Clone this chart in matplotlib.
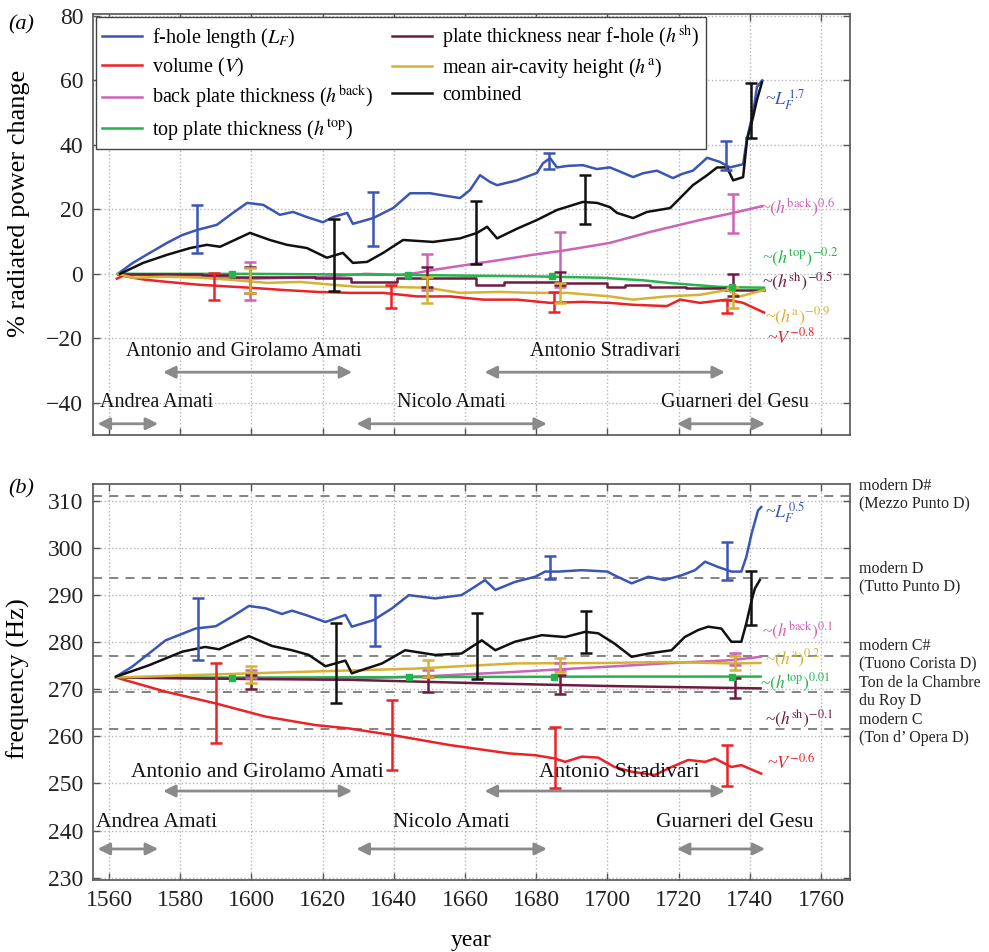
import matplotlib
matplotlib.use("Agg")
import matplotlib.pyplot as plt
from matplotlib.transforms import blended_transform_factory

plt.rcParams.update({
    "font.family": ["Liberation Serif", "DejaVu Serif"],
    "mathtext.fontset": "stix",
    "axes.edgecolor": "#555555",
    "xtick.direction": "in",
    "ytick.direction": "in",
    "xtick.top": True,
    "ytick.right": True,
    "xtick.color": "#555555",
    "ytick.color": "#555555",
    "xtick.labelcolor": "#222222",
    "ytick.labelcolor": "#222222",
})

C_BLUE = "#3b55b5"
C_RED = "#ec2227"
C_MAG = "#cc63b6"
C_GREEN = "#25b34b"
C_PURP = "#6e1a42"
C_YEL = "#d7b232"
C_BLACK = "#111111"
C_ARROW = "#8a8a8a"

# ---------------- panel (a): % radiated power change ----------------
lf_a_yr = [1562.5, 1566.7, 1571, 1576.3, 1580.5, 1584.7, 1590.3, 1594.8, 1598.8, 1603.3, 1608, 1611.7,
           1615.6, 1620.1, 1622.9, 1626.9, 1628.5, 1634.2, 1639.8, 1644.6, 1650.2, 1654, 1658.6, 1661.4,
           1664.2, 1667, 1669, 1674.6, 1680.2, 1681.9, 1683.9, 1685.8, 1689, 1693.1, 1697, 1700.7, 1704,
           1707.2, 1710, 1713.9, 1718.4, 1721, 1724, 1728, 1731.6, 1734.4, 1738.1, 1739.2, 1740.9, 1742, 1743.5]
lf_a = [0, 3.4, 6.2, 9.6, 12, 13.6, 15.2, 18.9, 22, 21.4, 18.3, 19.2,
        17.6, 16, 17.6, 18.9, 15.5, 17.3, 20.4, 25, 25, 24.3, 23.5, 26,
        30.6, 28.5, 27.5, 29, 31.3, 34.3, 35.9, 33, 33.5, 33.7, 32.5, 33, 31.5,
        30, 31.2, 32, 29.7, 31, 32, 36, 34.7, 33, 34, 42, 50, 58, 60]

comb_a_yr = [1563.1, 1569.6, 1576.3, 1582.8, 1587.5, 1591.2, 1599.6, 1605.2, 1610, 1615.6, 1621.2, 1625.7,
             1628.5, 1632.5, 1637, 1642.6, 1651, 1658.6, 1663.4, 1666.2, 1669, 1674.6, 1680.2, 1685.8,
             1693.1, 1697.1, 1700.7, 1702.7, 1707.2, 1711.1, 1717.6, 1720.4, 1724, 1728, 1730.8, 1733.6,
             1735.3, 1738.1, 1739.2, 1740.9, 1742, 1743.4]
comb_a = [0, 3.4, 5.9, 8, 9, 8.4, 12.7, 10.5, 9, 8, 5, 6.5,
          3.4, 3.7, 6.5, 10.5, 9.9, 11, 12.7, 14.6, 11, 14, 16.7, 19.8,
          22.3, 22, 20.7, 18.9, 17.3, 19.2, 20.4, 23.5, 27.5, 30.6, 33, 33,
          29, 30, 41.5, 48.6, 54, 59.4]

vol_a_yr = [1562.2, 1564, 1566.7, 1570, 1576.3, 1585.6, 1594.8, 1599.6, 1608.9, 1618.4, 1627.7, 1637,
            1646.5, 1655.8, 1665.1, 1674.6, 1683.9, 1693.1, 1700.7, 1707.2, 1716.7, 1720.4, 1726, 1733.6,
            1738.1, 1742, 1744]
vol_a = [-1.5, -0.6, -1.2, -1.8, -2.5, -3.4, -4, -4.3, -5, -5.6, -5.9, -5.9,
         -7, -7, -8, -8, -9, -8.7, -9, -9.6, -10, -8, -9, -8,
         -9, -11, -12]

back_a_yr = [1562.5, 1580, 1600, 1620, 1632, 1641.7, 1646.5, 1651, 1660.6, 1669.8, 1679, 1688.7,
             1700.7, 1712, 1726, 1735.3, 1743.5]
back_a = [0, -0.5, -1.5, -1, 0, -0.3, 0.3, 1.2, 2.8, 4.3, 5.9, 7.4,
          9.6, 13, 16.7, 18.9, 21]

top_a_yr = [1562.5, 1600, 1640, 1680, 1698, 1710, 1717, 1725, 1731, 1738, 1744]
top_a = [0, 0, -0.3, -0.8, -1.2, -2, -2.8, -3.5, -4, -4.2, -4.3]

sh_a_yr = [1562.5, 1586, 1594, 1618, 1628, 1641, 1663, 1671, 1686, 1700, 1705, 1712, 1722, 1733, 1744]
sh_a = [0, -0.5, -1, -1.3, -2.5, -1.2, -3.4, -2.5, -2.9, -4, -3.4, -4, -4.5, -5, -5]

ha_a_yr = [1562.5, 1566.7, 1576.3, 1585.6, 1594.8, 1604.4, 1613.7, 1622.9, 1629.7, 1637, 1649.3, 1658.6,
           1669.8, 1679.1, 1688.7, 1700.7, 1707.2, 1716.7, 1726, 1733.6, 1737.2, 1742, 1744]
ha_a = [0, -1.2, -0.9, -1.2, -1.9, -2.8, -2.5, -3.4, -4, -4, -4.3, -5.9,
        -5.6, -5.9, -5.9, -7, -8, -7, -6.5, -5, -7, -5.6, -5]

# error bars (a): year, centre, half-width
lf_a_err = ([1584.7, 1634.2, 1683.6, 1733.3], [13.9, 17, 35, 36.7], [7.3, 8.3, 2.6, 4.5])
comb_a_err = ([1623.2, 1663, 1693.7, 1740.2], [5.8, 12.9, 23, 50.6], [11.2, 9.8, 7.5, 8.6])
vol_a_err = ([1589.6, 1639.1, 1685, 1733.5], [-3.9, -7, -8.8, -10], [4.1, 3.6, 3.1, 2])
back_a_err = ([1599.6, 1649.2, 1686.7, 1735.4], [-2.1, 0.5, 4.5, 18.7], [5.9, 5.5, 8.5, 6.1])
sh_a_err = ([1599.6, 1649.2, 1686.7, 1735.4], [-2, -1, -1.4, -3.5], [4, 3, 2, 3.3])
ha_a_err = ([1599.6, 1649.2, 1686.7, 1735.4], [-2.1, -5, -6, -7.3], [3.9, 4.1, 3.1, 3.3])
top_a_err = ([1594.5, 1644, 1684.3, 1735], [0, -0.3, -0.8, -4.2], [0.3, 0.3, 0.3, 0.3])

# ---------------- panel (b): frequency ----------------
lf_b_yr = [1562, 1566.5, 1575.9, 1584.3, 1590, 1594.5, 1599.3, 1604, 1608.6, 1611.4, 1615.2, 1620.8,
           1626.4, 1628.2, 1634.3, 1639.5, 1644.2, 1651.6, 1659, 1662.8, 1665.6, 1668.5, 1674, 1679.7,
           1682.5, 1686.2, 1692.8, 1700, 1702, 1706.8, 1711.5, 1716, 1720.8, 1724.6, 1727.4, 1731,
           1734.8, 1737.6, 1739, 1740.5, 1742.3, 1743.2]
lf_b = [272.7, 274.8, 280.4, 282.9, 283.4, 285.4, 287.7, 287.2, 286, 286.7, 285.8, 284.3,
        285.8, 283.3, 284.7, 287.2, 290, 289.3, 290, 291.8, 293.2, 291.1, 292.8, 293.9,
        295, 295, 295.3, 295, 294.2, 292.5, 293.9, 293.2, 294.2, 295.3, 297.1, 296,
        295, 295, 298.1, 303.1, 308, 308.7]

comb_b_yr = [1562, 1571.2, 1580.6, 1587, 1590.9, 1599.3, 1605.8, 1611.4, 1616.1, 1620.8, 1626.4, 1628.2,
             1636.7, 1643.2, 1651.6, 1659, 1664.7, 1668.5, 1674, 1681.6, 1688.1, 1693.7, 1697.4, 1702,
             1706.8, 1711.5, 1718, 1721.7, 1725.5, 1728.3, 1732, 1734.8, 1737.6, 1739, 1740.5, 1741.4,
             1742.8]
comb_b = [272.7, 275.1, 278, 279, 278.5, 281.3, 279.2, 278.3, 277.3, 274.9, 276.1, 273.4,
          275.5, 278.3, 277.3, 277.6, 280.4, 278.3, 280.1, 281.5, 281.1, 282.2, 281.9, 279.7,
          276.9, 277.6, 278.3, 281.1, 282.6, 283.3, 282.9, 280.1, 280.1, 284, 288.9, 291.4,
          293.2]

vol_b_yr = [1562, 1575.9, 1590, 1604, 1618, 1627.3, 1639.5, 1655.4, 1672.2, 1679.7, 1685.3, 1688.1,
            1692.8, 1697.4, 1702, 1706.8, 1713.3, 1718, 1722.7, 1727.4, 1730.2, 1734.8, 1737.6, 1743.2]
vol_b = [272.5, 269.5, 267, 264.2, 262.4, 261.7, 260.3, 258.2, 256.4, 256, 255.3, 254.6,
         255.7, 255.5, 253.5, 252.5, 251.8, 253.5, 255, 254.6, 255.3, 253.5, 253.9, 252.1]

ha_b_yr = [1562, 1600, 1646, 1674, 1700, 1716, 1735, 1743]
ha_b = [272.5, 273.4, 274.4, 275.5, 275.6, 275.8, 275.5, 275.6]
back_b_yr = [1562, 1600, 1628, 1650, 1674, 1700, 1716, 1735, 1743]
back_b = [272.5, 272.2, 272.3, 272.8, 273.7, 274.8, 275.5, 276.2, 276.9]
top_b_yr = [1562, 1600, 1650, 1700, 1743]
top_b = [272.5, 272.5, 272.6, 272.7, 272.7]
sh_b_yr = [1562, 1600, 1628, 1664, 1700, 1743]
sh_b = [272.5, 272.2, 272, 271.3, 270.7, 270.2]

lf_b_err = ([1585, 1634.6, 1684, 1733.7], [282.8, 284.6, 295.9, 297.2], [6.6, 5.4, 2.4, 4])
comb_b_err = ([1623.7, 1663.3, 1694, 1740.3], [275.6, 279.2, 282.2, 289.4], [8.5, 7.1, 4.4, 5.7])
vol_b_err = ([1590, 1639.6, 1685.3, 1733.7], [267, 260.3, 255.5, 253.8], [8.5, 7.5, 6.5, 4.4])
ha_b_err = ([1600, 1649.5, 1686.6, 1735.8], [273.1, 274.5, 275.2, 275.5], [1.8, 1.8, 1.5, 1.5])
back_b_err = ([1600, 1649.5, 1686.6, 1735.8], [273.3, 273.5, 274.8, 276.5], [0.8, 0.7, 0.7, 1.3])
sh_b_err = ([1600, 1649.5, 1686.6, 1735.8], [271.5, 271.1, 271, 270.2], [1.5, 1.6, 2, 2.1])
top_b_err = ([1594.6, 1644.2, 1685, 1735], [272.5, 272.6, 272.7, 272.7], [0.2, 0.2, 0.2, 0.2])

# reference pitches (Hz)
pitch_hz = [311.13, 293.66, 277.18, 269.4, 261.63]
pitch_names = ["modern D#\n(Mezzo Punto D)", "modern D\n(Tutto Punto D)",
               "modern C#\n(Tuono Corista D)", "Ton de la Chambre\ndu Roy D",
               "modern C\n(Ton d\u2019 Opera D)"]

# makers: name, start year, end year, row (0 = upper, 1 = lower)
makers = ["Andrea Amati", "Antonio and Girolamo Amati", "Nicolo Amati",
          "Antonio Stradivari", "Guarneri del Gesu"]
maker_start = [1556.8, 1575.2, 1629.5, 1665.5, 1719.5]
maker_end = [1573.8, 1628.3, 1683, 1733, 1744.3]
maker_row = [1, 0, 1, 0, 1]

LABELS = ["f-hole length ($L_F$)", "volume ($V$)",
          "back plate thickness ($h^{\\mathrm{back}}$)",
          "top plate thickness ($h^{\\mathrm{top}}$)",
          "plate thickness near f-hole ($h^{\\mathrm{sh}}$)",
          "mean air-cavity height ($h^{\\mathrm{a}}$)", "combined"]

fig = plt.figure(figsize=(9.89, 9.52), dpi=100)
ax1 = fig.add_axes([0.094, 0.543, 0.765, 0.442])
ax2 = fig.add_axes([0.094, 0.0756, 0.765, 0.416])

LW = 1.8


def draw_panel(ax, series, errs):
    handles = []
    for (yr, v, c, ds) in series:
        h, = ax.plot(yr, v, color=c, lw=LW, drawstyle=ds, zorder=3)
        handles.append(h)
    for (e, c) in errs:
        ax.errorbar(e[0], e[1], yerr=e[2], fmt="none", ecolor=c, elinewidth=1.8,
                    capsize=4, capthick=1.8, zorder=4)
    return handles


series_a = [(lf_a_yr, lf_a, C_BLUE, "default"), (vol_a_yr, vol_a, C_RED, "default"),
            (back_a_yr, back_a, C_MAG, "default"), (top_a_yr, top_a, C_GREEN, "default"),
            (sh_a_yr, sh_a, C_PURP, "steps-post"), (ha_a_yr, ha_a, C_YEL, "default"),
            (comb_a_yr, comb_a, C_BLACK, "default")]
errs_a = [(lf_a_err, C_BLUE), (vol_a_err, C_RED), (back_a_err, C_MAG), (sh_a_err, C_PURP),
          (ha_a_err, C_YEL), (comb_a_err, C_BLACK)]
handles = draw_panel(ax1, series_a, errs_a)
ax1.plot(top_a_err[0], top_a_err[1], "s", color=C_GREEN, ms=5, zorder=4)

series_b = [(lf_b_yr, lf_b, C_BLUE, "default"), (vol_b_yr, vol_b, C_RED, "default"),
            (back_b_yr, back_b, C_MAG, "default"), (top_b_yr, top_b, C_GREEN, "default"),
            (sh_b_yr, sh_b, C_PURP, "default"), (ha_b_yr, ha_b, C_YEL, "default"),
            (comb_b_yr, comb_b, C_BLACK, "default")]
errs_b = [(lf_b_err, C_BLUE), (vol_b_err, C_RED), (back_b_err, C_MAG), (sh_b_err, C_PURP),
          (ha_b_err, C_YEL), (comb_b_err, C_BLACK)]
draw_panel(ax2, series_b, errs_b)
ax2.plot(top_b_err[0], top_b_err[1], "s", color=C_GREEN, ms=4, zorder=4)

for p in pitch_hz:
    ax2.axhline(p, color="#7a7a7a", lw=1.3, ls=(0, (5, 4)), zorder=1)

# axes cosmetics
for ax in (ax1, ax2):
    ax.set_xlim(1555.5, 1768)
    ax.set_xticks(range(1560, 1761, 20))
    ax.grid(True, color="#b5b5b5", ls=":", lw=1.0)
    ax.set_axisbelow(True)
    ax.tick_params(labelsize=17, length=5, width=1, pad=7)
    for s in ax.spines.values():
        s.set_linewidth(1.2)

ax1.set_ylim(-50, 80.5)
ax1.set_yticks(range(-40, 81, 20))
ax1.set_xticklabels([])
ax1.set_yticklabels(["\u221240", "\u221220", "0", "20", "40", "60", "80"])
ax1.set_ylabel("% radiated power change", fontsize=19)
ax1.yaxis.set_label_coords(-0.083, 0.551)

ax2.set_ylim(229.5, 313.6)
ax2.set_yticks(range(230, 311, 10))
ax2.set_ylabel("frequency (Hz)", fontsize=19)
ax2.yaxis.set_label_coords(-0.083, 0.508)
ax2.set_xlabel("year", fontsize=17)
ax2.xaxis.set_label_coords(0.5, -0.125)

leg = ax1.legend(handles, LABELS, ncol=2, loc="upper left", fontsize=14.5,
                 frameon=True, fancybox=False, edgecolor="#444444", framealpha=1,
                 borderaxespad=0.15, handlelength=2.0, handletextpad=0.5, columnspacing=0.9,
                 labelspacing=0.28, borderpad=0.3)
leg.get_frame().set_linewidth(1.0)

# makers
def draw_makers(ax, text_y, arrow_y, text_x_shift, fs):
    for name, s, e, r in zip(makers, maker_start, maker_end, maker_row):
        ax.annotate("", xy=(e, arrow_y[r]), xytext=(s, arrow_y[r]),
                    arrowprops=dict(arrowstyle="<|-|>", color=C_ARROW, lw=2,
                                    mutation_scale=18, shrinkA=0, shrinkB=0), zorder=2)
        ax.text((s + e) / 2 + text_x_shift.get(name, 0), text_y[r], name, fontsize=fs,
                ha="center", va="center", color="#111111")

shift_a = {"Andrea Amati": 8, "Antonio and Girolamo Amati": -4, "Antonio Stradivari": 0,
           "Nicolo Amati": 0, "Guarneri del Gesu": 4}
shift_b = {"Andrea Amati": 8, "Antonio and Girolamo Amati": 0, "Antonio Stradivari": 4,
           "Nicolo Amati": 0, "Guarneri del Gesu": 4}
draw_makers(ax1, [-24, -40], [-30.5, -46.5], shift_a, 14.5)
draw_makers(ax2, [252.4, 241.8], [248.4, 236.1], shift_b, 15.5)

# exponent labels
lab_a = [(1744.3, 54, "~$L_F^{\\,1.7}$", C_BLUE, 13),
         (1742.9, 20.4, "~$(h^{\\mathrm{back}})^{0.6}$", C_MAG, 13),
         (1743.4, 5, "~$(h^{\\mathrm{top}})^{-0.2}$", C_GREEN, 13),
         (1743.4, -2.5, "~$(h^{\\mathrm{sh}})^{-0.5}$", C_PURP, 13),
         (1744.3, -13.4, "~$(h^{\\mathrm{a}})^{-0.9}$", C_YEL, 13),
         (1744.8, -19.6, "~$V^{-0.8}$", C_RED, 13)]
lab_b = [(1744.3, 307.6, "~$L_F^{\\,0.5}$", C_BLUE, 13),
         (1743.5, 282.4, "~$(h^{\\mathrm{back}})^{0.1}$", C_MAG, 12.5),
         (1744.3, 276.4, "~$(h^{\\mathrm{a}})^{0.2}$", C_YEL, 12.5),
         (1742.9, 271.3, "~$(h^{\\mathrm{top}})^{0.01}$", C_GREEN, 12.5),
         (1744.3, 263.9, "~$(h^{\\mathrm{sh}})^{-0.1}$", C_PURP, 12.5),
         (1744.8, 254.1, "~$V^{-0.6}$", C_RED, 13)]
for ax, labs in ((ax1, lab_a), (ax2, lab_b)):
    for x, y, t, c, fs in labs:
        ax.text(x, y, t, color=c, fontsize=fs, ha="left", va="center", clip_on=False, zorder=5)

tr = blended_transform_factory(ax2.transAxes, ax2.transData)
for p, name in zip(pitch_hz, pitch_names):
    ax2.text(1.013, p, name, transform=tr, fontsize=11.5, ha="left", va="center",
             linespacing=1.2, color="#222222")

fig.text(0.008, 0.984, "(a)", fontsize=16, style="italic", va="top")
fig.text(0.008, 0.497, "(b)", fontsize=16, style="italic", va="top")

fig.savefig("out.png", dpi=100)
